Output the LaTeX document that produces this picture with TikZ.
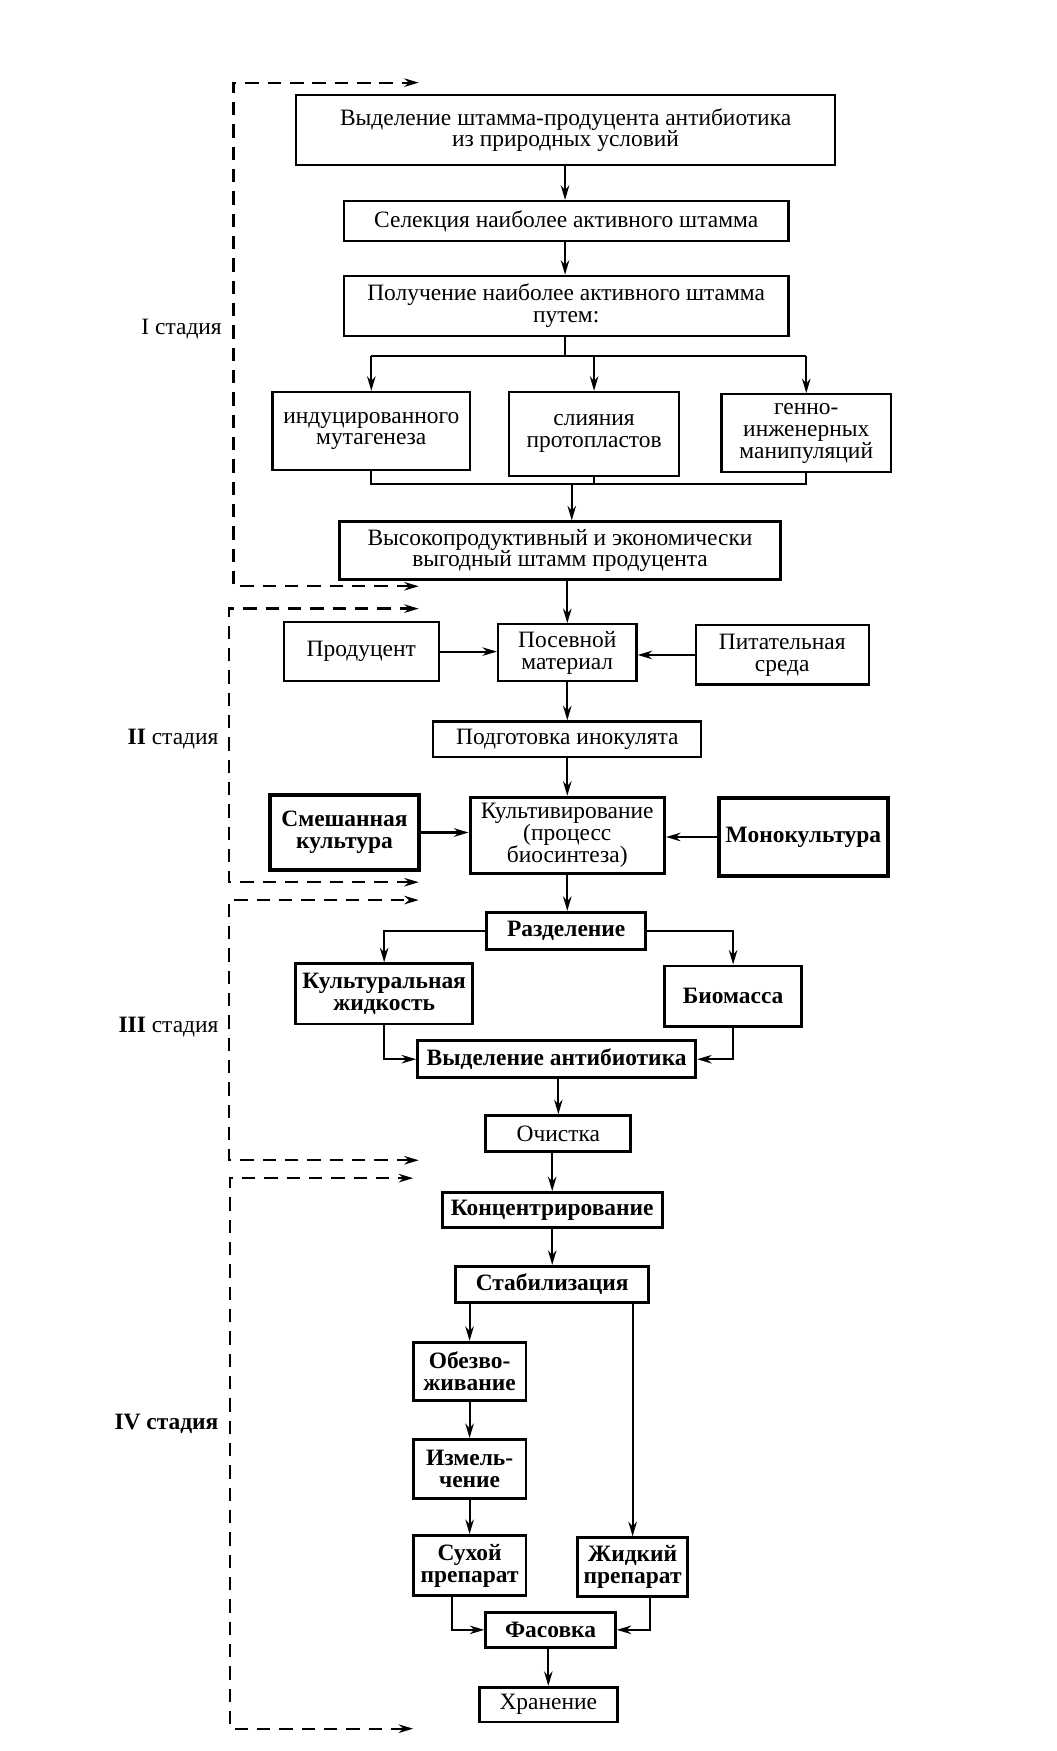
\documentclass[tikz,border=0pt]{standalone}
\usepackage{fontspec}
\setmainfont{Liberation Serif}
\usetikzlibrary{arrows.meta,calc}
\newcommand\bx[7]{%
  \pgfmathsetmacro\bxw{(#5-#3)*0.5}%
  \pgfmathsetmacro\bxh{(#6-#4)*0.5}%
  \node[#1, minimum width=\bxw pt, minimum height=\bxh pt] (#2) at ({(#3+#5)/2},{(#4+#6)/2}) {#7};}
\begin{document}
\begin{tikzpicture}[x=0.5pt,y=-0.5pt,
  box/.style={draw, line width=1pt, inner sep=0pt, align=center, font=\fontsize{10.5}{9.8}\selectfont},
  bbox/.style={box, line width=1.3pt, font=\fontsize{10.5}{9.8}\selectfont\bfseries},
  tbox/.style={bbox, line width=1.8pt},
  arr/.style={line width=0.9pt, -{Stealth[length=6.5pt,width=3.8pt]}},
  ln/.style={line width=0.9pt},
  stagebr/.style={line width=1pt, dash pattern=on 6pt off 4pt, {Stealth[length=6.5pt,width=3.8pt]}-{Stealth[length=6.5pt,width=3.8pt]}},
  stagelbl/.style={anchor=east, inner sep=0pt, font=\fontsize{10.5}{12}\selectfont}
]
\useasboundingbox (0,0) rectangle (946,1568);

% ---------- Stage I ----------
\bx{box}{b1}{265}{85}{748}{148}{Выделение штамма-продуцента антибиотика\\из природных условий}
\bx{box}{b2}{308}{180}{706}{216}{Селекция наиболее активного штамма}
\bx{box}{b3}{308}{247}{706}{301}{Получение наиболее активного штамма\\путем:}
\bx{box}{b4a}{244}{351}{421}{421}{индуцированного\\мутагенеза}
\bx{box}{b4b}{456}{351}{608}{426}{слияния\\протопластов}
\bx{box}{b4c}{646}{353}{798}{423}{генно-\\инженерных\\манипуляций}
\bx{box}{b5}{304}{467}{699}{519}{Высокопродуктивный и экономически\\выгодный штамм продуцента}

\coordinate (sp) at (506,319);
\coordinate (mg) at (512,433);
\draw[arr] (b1.south -| sp) -- (b2.north -| sp);
\draw[arr] (b2.south -| sp) -- (b3.north -| sp);
\draw[ln] (b3.south -| sp) -- (sp);
\draw[ln] (b4a.north |- sp) -- (b4c.north |- sp);
\draw[arr] (b4a.north |- sp) -- (b4a.north);
\draw[arr] (b4b.north |- sp) -- (b4b.north);
\draw[arr] (b4c.north |- sp) -- (b4c.north);
\draw[ln] (b4a.south) -- (b4a.south |- mg) -- (b4c.south |- mg) -- (b4c.south);
\draw[ln] (b4b.south) -- (b4b.south |- mg);
\draw[arr] (mg) -- (mg |- b5.north);

% ---------- Stage II ----------
\bx{box}{c1}{254}{557}{393}{610}{Продуцент}
\bx{box}{c2}{446}{559}{570}{610}{Посевной\\материал}
\bx{box}{c3}{623}{560}{778}{613}{Питательная\\среда}
\bx{box}{c4}{388}{646}{628}{678}{Подготовка инокулята}
\bx{tbox}{c5}{242}{712}{375}{779}{Смешанная\\культура}
\bx{box, line width=1.4pt}{c6}{421}{714}{595}{782}{Культивирование\\(процесс\\биосинтеза)}
\bx{tbox}{c7}{644}{715}{795}{784}{Монокультура}

\draw[arr] (b5.south -| c2.north) -- (c2.north);
\draw[arr] (c1.east) -- (c1.east -| c2.west);
\draw[arr] (c3.west) -- (c3.west -| c2.east);
\draw[arr] (c2.south) -- (c2.south |- c4.north);
\draw[arr] (c4.south -| c6.north) -- (c6.north);
\draw[arr, line width=1.3pt] (c5.east) -- (c5.east -| c6.west);
\draw[arr, line width=1.3pt] (c7.west) -- (c7.west -| c6.east);

% ---------- Stage III ----------
\bx{bbox}{d1}{436}{817}{578}{850}{Разделение}
\bx{bbox}{d2}{265}{863}{423}{917}{Культуральная\\жидкость}
\bx{bbox}{d3}{595}{865}{718}{919}{Биомасса}
\bx{bbox}{d4}{374}{932}{623}{965}{Выделение антибиотика}
\bx{box, line width=1.3pt}{d5}{435}{999}{565}{1031}{Очистка}

\draw[arr] (c6.south) -- (c6.south |- d1.north);
\draw[arr] (d1.west) -| (d2.north);
\draw[arr] (d1.east) -| (d3.north);
\draw[arr] (d2.south) |- (d4.west);
\draw[arr] (d3.south) |- (d4.east);
\draw[arr] (d4.south -| d5.north) -- (d5.north);

% ---------- Stage IV ----------
\bx{bbox}{e1}{396}{1068}{593}{1099}{Концентрирование}
\bx{bbox}{e2}{408}{1134}{581}{1166}{Стабилизация}
\bx{bbox}{e3}{370}{1202}{471}{1254}{Обезво-\\живание}
\bx{bbox}{e4}{370}{1289}{471}{1342}{Измель-\\чение}
\bx{bbox}{e5}{370}{1375}{471}{1429}{Сухой\\препарат}
\bx{bbox}{e6}{517}{1377}{616}{1430}{Жидкий\\препарат}
\bx{bbox}{e7}{435}{1444}{551}{1475}{Фасовка}
\bx{box, line width=1.3pt}{e8}{429}{1511}{553}{1542}{Хранение}

\draw[arr] (d5.south -| e1.north) -- (e1.north);
\draw[arr] (e1.south) -- (e2.north);
\draw[arr] (e3.north |- e2.south) -- (e3.north);
\draw[arr] (e6.north |- e2.south) -- (e6.north);
\draw[arr] (e3.south) -- (e4.north);
\draw[arr] (e4.south) -- (e5.north);
\draw[arr] ($(e5.south)+(-16,0)$) |- (e7.west);
\draw[arr] ($(e6.south)+(16,0)$) |- (e7.east);
\draw[arr] (e7.south -| e8.north) -- (e8.north);

% ---------- Stage brackets ----------
\coordinate (s1a) at (375,525); \coordinate (s1b) at (375,74);
\coordinate (s2a) at (375,790); \coordinate (s2b) at (375,545);
\coordinate (s3a) at (375,1039); \coordinate (s3b) at (375,806);
\coordinate (s4a) at (370,1548); \coordinate (s4b) at (370,1055);
\draw[stagebr] (s1a) -- (209,525) -- (209,74) -- (s1b);
\draw[stagebr] (s2a) -- (205,790) -- (205,545) -- (s2b);
\draw[stagebr] (s3a) -- (205,1039) -- (205,806) -- (s3b);
\draw[stagebr] (s4a) -- (206,1548) -- (206,1055) -- (s4b);

\node[stagelbl] (l1) at (199,295) {I стадия};
\node[stagelbl] (l2) at (196,662) {\textbf{II} стадия};
\node[stagelbl] (l3) at (196,920) {\textbf{III} стадия};
\node[stagelbl] (l4) at (196,1275) {\textbf{IV стадия}};
\end{tikzpicture}
\end{document}
